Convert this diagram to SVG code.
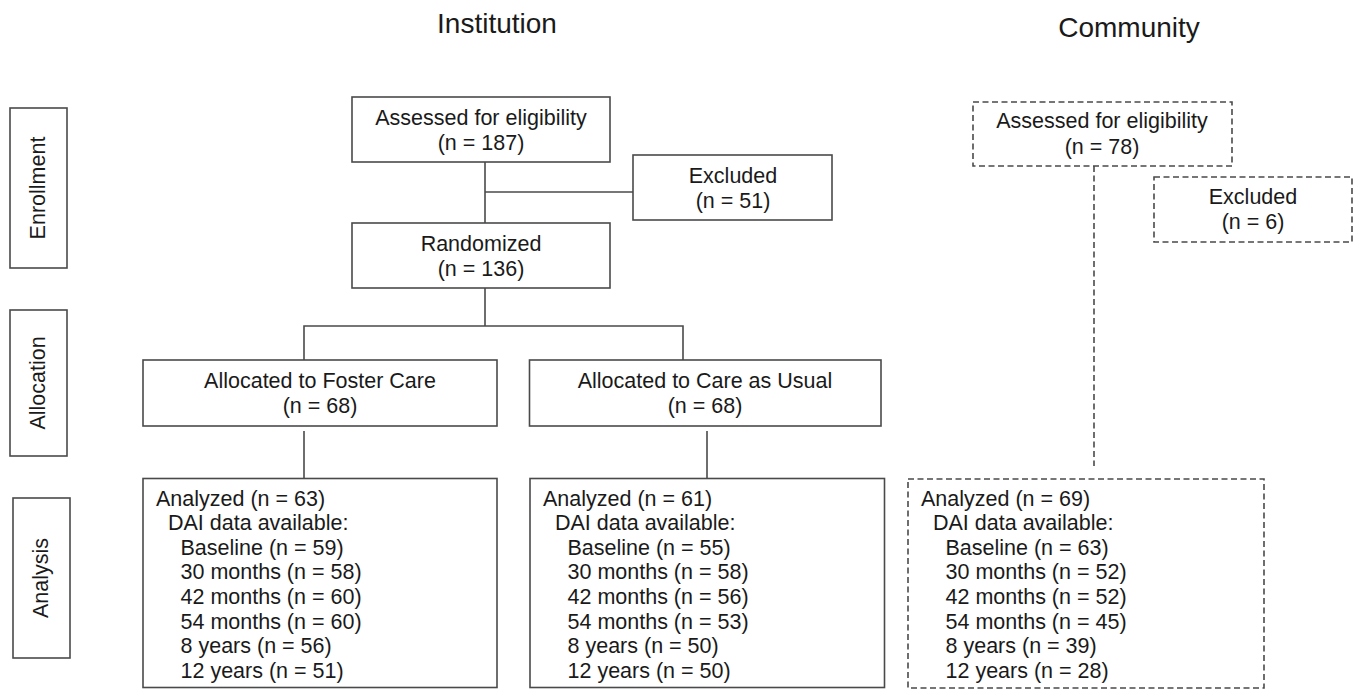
<svg xmlns="http://www.w3.org/2000/svg" width="1360" height="692" viewBox="0 0 1360 692">
<style>
  .box { fill: #ffffff; stroke: #4a4a4a; stroke-width: 1.6; }
  .dash { fill: #ffffff; stroke: #4a4a4a; stroke-width: 1.6; stroke-dasharray: 6 3.5; }
  .ln { fill: none; stroke: #4a4a4a; stroke-width: 1.6; }
  .dln { fill: none; stroke: #4a4a4a; stroke-width: 1.6; stroke-dasharray: 6 3.5; }
  text { font-family: "Liberation Sans", Arial, sans-serif; font-size: 21.5px; fill: #1a1a1a; }
  .c { text-anchor: middle; }
  .title { font-size: 28px; text-anchor: middle; }
</style>
<rect width="1360" height="692" fill="#ffffff"/>

<g id="titles">
  <text class="title" x="497" y="33">Institution</text>
  <text class="title" x="1129" y="37">Community</text>
</g>

<g id="side-enrollment">
  <rect class="box" x="10" y="108" width="57" height="160"/>
  <text class="c" transform="translate(45,188) rotate(-90)">Enrollment</text>
</g>
<g id="side-allocation">
  <rect class="box" x="10" y="310" width="57" height="146"/>
  <text class="c" transform="translate(45,383) rotate(-90)">Allocation</text>
</g>
<g id="side-analysis">
  <rect class="box" x="13" y="498" width="57" height="160"/>
  <text class="c" transform="translate(48,578) rotate(-90)">Analysis</text>
</g>

<g id="connectors">
  <line class="ln" x1="485" y1="162" x2="485" y2="223"/>
  <line class="ln" x1="485" y1="192" x2="633" y2="192"/>
  <line class="ln" x1="485" y1="288" x2="485" y2="326"/>
  <polyline class="ln" points="304,360 304,326 683,326 683,360"/>
  <line class="ln" x1="304" y1="431" x2="304" y2="478"/>
  <line class="ln" x1="707" y1="431" x2="707" y2="478"/>
  <line class="dln" x1="1094" y1="166" x2="1094" y2="466"/>
</g>

<g id="inst-assessed">
  <rect class="box" x="352" y="97" width="258" height="65"/>
  <text class="c" x="481" y="124.5">Assessed for eligibility</text>
  <text class="c" x="481" y="149.7">(n = 187)</text>
</g>
<g id="inst-excluded">
  <rect class="box" x="633" y="155" width="199" height="65"/>
  <text class="c" x="733" y="182.5">Excluded</text>
  <text class="c" x="733" y="207.7">(n = 51)</text>
</g>
<g id="inst-randomized">
  <rect class="box" x="352" y="223" width="258" height="65"/>
  <text class="c" x="481" y="250.5">Randomized</text>
  <text class="c" x="481" y="275.7">(n = 136)</text>
</g>
<g id="alloc-foster">
  <rect class="box" x="143" y="360" width="354" height="66"/>
  <text class="c" x="320" y="387.5">Allocated to Foster Care</text>
  <text class="c" x="320" y="412.7">(n = 68)</text>
</g>
<g id="alloc-cau">
  <rect class="box" x="529.5" y="360" width="351.5" height="66"/>
  <text class="c" x="705" y="387.5">Allocated to Care as Usual</text>
  <text class="c" x="705" y="412.7">(n = 68)</text>
</g>

<g id="analysis-foster">
  <rect class="box" x="143" y="478.5" width="354" height="209"/>
  <text x="156" y="505.5">Analyzed (n = 63)</text>
  <text x="168" y="530.1">DAI data available:</text>
  <text x="180.5" y="554.7">Baseline (n = 59)</text>
  <text x="180.5" y="579.3">30 months (n = 58)</text>
  <text x="180.5" y="603.9">42 months (n = 60)</text>
  <text x="180.5" y="628.5">54 months (n = 60)</text>
  <text x="180.5" y="653.1">8 years (n = 56)</text>
  <text x="180.5" y="677.7">12 years (n = 51)</text>
</g>
<g id="analysis-cau">
  <rect class="box" x="530" y="478.5" width="354.5" height="209"/>
  <text x="543" y="505.5">Analyzed (n = 61)</text>
  <text x="555" y="530.1">DAI data available:</text>
  <text x="567.5" y="554.7">Baseline (n = 55)</text>
  <text x="567.5" y="579.3">30 months (n = 58)</text>
  <text x="567.5" y="603.9">42 months (n = 56)</text>
  <text x="567.5" y="628.5">54 months (n = 53)</text>
  <text x="567.5" y="653.1">8 years (n = 50)</text>
  <text x="567.5" y="677.7">12 years (n = 50)</text>
</g>

<g id="comm-assessed">
  <rect class="dash" x="973" y="102" width="259" height="64"/>
  <text class="c" x="1102" y="128.3">Assessed for eligibility</text>
  <text class="c" x="1102" y="153.5">(n = 78)</text>
</g>
<g id="comm-excluded">
  <rect class="dash" x="1154" y="177" width="198" height="65"/>
  <text class="c" x="1253" y="204">Excluded</text>
  <text class="c" x="1253" y="229.2">(n = 6)</text>
</g>
<g id="analysis-community">
  <rect class="dash" x="908" y="479" width="356" height="209"/>
  <text x="921" y="505.5">Analyzed (n = 69)</text>
  <text x="933" y="530.1">DAI data available:</text>
  <text x="945.5" y="554.7">Baseline (n = 63)</text>
  <text x="945.5" y="579.3">30 months (n = 52)</text>
  <text x="945.5" y="603.9">42 months (n = 52)</text>
  <text x="945.5" y="628.5">54 months (n = 45)</text>
  <text x="945.5" y="653.1">8 years (n = 39)</text>
  <text x="945.5" y="677.7">12 years (n = 28)</text>
</g>
</svg>
